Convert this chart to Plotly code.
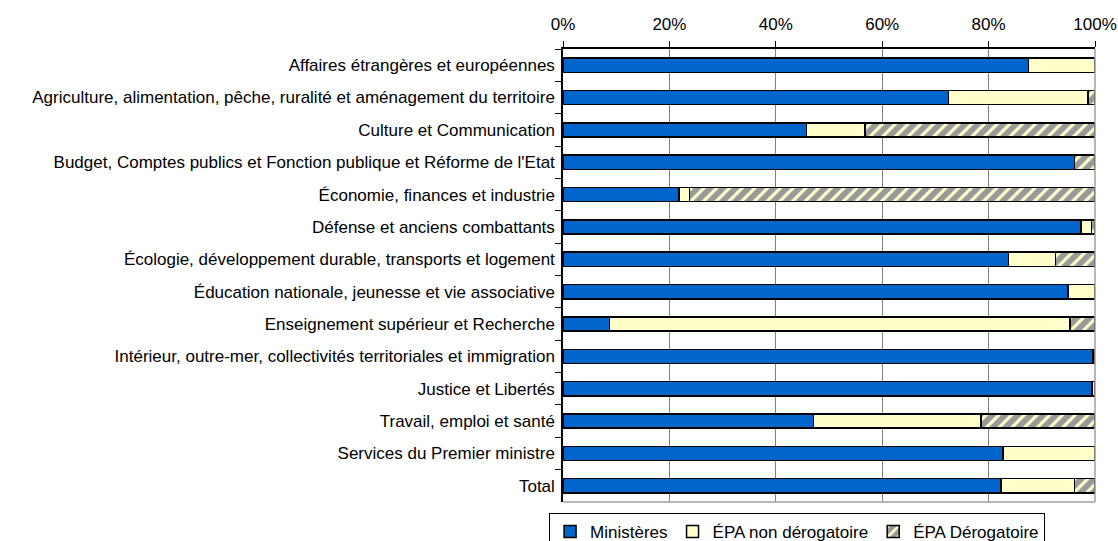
import plotly.graph_objects as go

categories = [
    "Affaires étrangères et européennes",
    "Agriculture, alimentation, pêche, ruralité et aménagement du territoire",
    "Culture et Communication",
    "Budget, Comptes publics et Fonction publique et Réforme de l'Etat",
    "Économie, finances et industrie",
    "Défense et anciens combattants",
    "Écologie, développement durable, transports et logement",
    "Éducation nationale, jeunesse et vie associative",
    "Enseignement supérieur et Recherche",
    "Intérieur, outre-mer, collectivités territoriales et immigration",
    "Justice et Libertés",
    "Travail, emploi et santé",
    "Services du Premier ministre",
    "Total",
]
ministeres = [87.5, 72.5, 45.8, 96.1, 21.8, 97.4, 83.7, 94.9, 8.7, 99.6, 99.4, 47.1, 82.7, 82.3]
epa_non_derog = [12.5, 26.2, 11.0, 0.0, 2.0, 1.9, 8.9, 5.1, 86.6, 0.2, 0.6, 31.5, 17.3, 13.8]
epa_derog = [0.0, 1.3, 43.2, 3.9, 76.2, 0.7, 7.4, 0.0, 4.7, 0.2, 0.0, 21.4, 0.0, 3.9]

series_names = ["Ministères", "ÉPA non dérogatoire", "ÉPA Dérogatoire"]

FONT = "Liberation Sans, Arial, sans-serif"
FS = 17

fig = go.Figure()
fig.add_trace(go.Bar(
    y=categories, x=ministeres, orientation="h", name=series_names[0],
    marker=dict(color="#0066CC", line=dict(color="#000000", width=1.5)),
    width=0.44,
))
fig.add_trace(go.Bar(
    y=categories, x=epa_non_derog, orientation="h", name=series_names[1],
    marker=dict(color="#FFFFCC", line=dict(color="#000000", width=1.5)),
    width=0.44,
))
fig.add_trace(go.Bar(
    y=categories, x=epa_derog, orientation="h", name=series_names[2],
    marker=dict(color="#999999", line=dict(color="#000000", width=1.5),
                pattern=dict(shape="/", fgcolor="#FFFFCC", bgcolor="#999999",
                             size=9, solidity=0.35, fillmode="replace")),
    width=0.44,
))

W, H = 1118, 541
fig.update_layout(
    barmode="stack",
    width=W, height=H,
    margin=dict(l=563, r=23, t=49, b=39),
    paper_bgcolor="white", plot_bgcolor="white",
    font=dict(family=FONT, size=FS, color="#000000"),
    showlegend=True,
    legend=dict(
        orientation="h", xref="paper", yref="container",
        x=0.44, xanchor="center", y=1 - 513 / H, yanchor="top",
        bordercolor="#000000", borderwidth=1, bgcolor="white",
        font=dict(family=FONT, size=FS, color="#000000"),
        traceorder="normal", itemwidth=30, tracegroupgap=0,
    ),
)

fig.update_xaxes(
    side="top", range=[0, 100], tickvals=[0, 20, 40, 60, 80, 100],
    ticktext=["0%", "20%", "40%", "60%", "80%", "100%"],
    showgrid=True, gridcolor="#808080", gridwidth=1,
    showline=True, linecolor="#000000", linewidth=1.5,
    ticks="outside", ticklen=6, tickcolor="#000000", tickwidth=1,
    zeroline=False, tickfont=dict(size=FS), automargin=False,
    ticklabelstandoff=4,
)
fig.update_yaxes(
    autorange="reversed", showline=True, linecolor="#000000", linewidth=1.5,
    ticks="outside", ticklen=6, tickcolor="#000000", tickwidth=1,
    tickson="boundaries", showgrid=False, tickfont=dict(size=FS),
    ticklabelstandoff=3, automargin=False,
)

# grey plot-area border (right and bottom)
fig.add_shape(type="line", xref="paper", yref="paper", x0=0, x1=1, y0=0, y1=0,
              line=dict(color="#A0A0A0", width=1.5))
fig.add_shape(type="line", xref="paper", yref="paper", x0=1, x1=1, y0=0, y1=1,
              line=dict(color="#A0A0A0", width=1.5))

fig.write_html(
    "out.html",
    config={"displayModeBar": False},
    post_script="document.body.style.margin='0';document.body.style.overflow='hidden';",
)
